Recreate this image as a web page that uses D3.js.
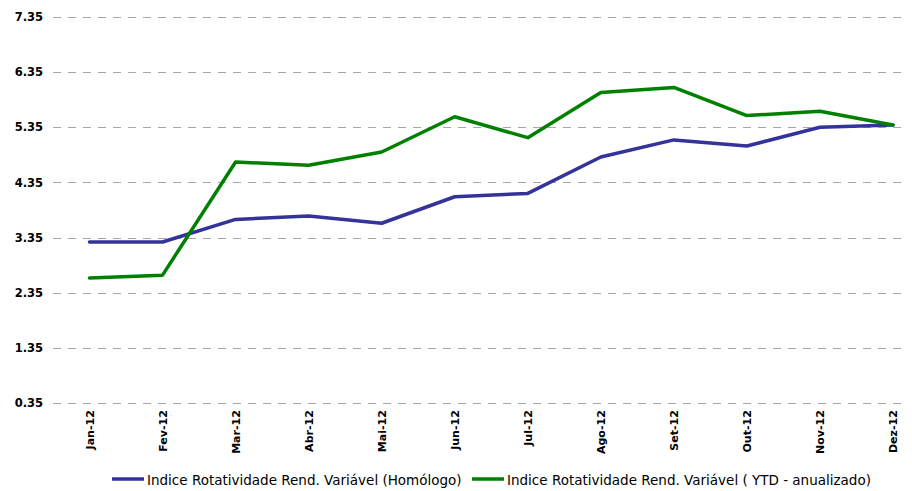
<!DOCTYPE html>
<html>
<head>
<meta charset="utf-8">
<script src="https://cdn.jsdelivr.net/npm/d3@7"></script>
<style>
  html, body { margin: 0; padding: 0; background: #fff; }
  svg { display: block; }
</style>
</head>
<body>
<svg id="chart" width="912" height="491"></svg>
<script>
const categories = ["Jan-12","Fev-12","Mar-12","Abr-12","Mai-12","Jun-12","Jul-12","Ago-12","Set-12","Out-12","Nov-12","Dez-12"];
const homologo = [3.27, 3.27, 3.68, 3.74, 3.61, 4.09, 4.15, 4.81, 5.12, 5.01, 5.35, 5.39];
const ytd = [2.62, 2.67, 4.72, 4.66, 4.90, 5.54, 5.16, 5.98, 6.07, 5.56, 5.64, 5.39];
const yTicks = [0.35, 1.35, 2.35, 3.35, 4.35, 5.35, 6.35, 7.35];
const seriesNames = ["Indice Rotatividade Rend. Variável (Homólogo)", "Indice Rotatividade Rend. Variável ( YTD - anualizado)"];
const seriesColors = ["#333399", "#008000"];

const svg = d3.select("#chart");
const gridLeft = 53, gridRight = 907;

const x = d3.scalePoint().domain(categories).range([89.5, 893]);
const y = d3.scaleLinear().domain([0.35, 7.35]).range([403.2, 16.8]);

// y axis labels
const yAxis = d3.axisLeft(y).tickValues(yTicks).tickFormat(d3.format(".2f")).tickSize(0).tickPadding(10);
const gy = svg.append("g").attr("transform", `translate(${gridLeft},0)`).call(yAxis);
gy.select(".domain").remove();
gy.selectAll("text")
  .attr("font-family", "DejaVu Sans, Verdana, sans-serif")
  .attr("font-weight", "bold")
  .attr("font-size", 11.5)
  .attr("fill", "#000");

// gridlines
svg.append("g").selectAll("line").data(yTicks).join("line")
  .attr("x1", gridLeft).attr("x2", gridRight)
  .attr("y1", d => Math.round(y(d)) + 0.5).attr("y2", d => Math.round(y(d)) + 0.5)
  .attr("stroke", "#a6a6a6").attr("stroke-width", 1)
  .attr("stroke-dasharray", "8,7");

// x axis labels
const xAxis = d3.axisBottom(x).tickSize(0).tickPadding(0);
const gx = svg.append("g").attr("transform", `translate(0,${y(0.35)})`).call(xAxis);
gx.select(".domain").remove();
gx.selectAll("text")
  .attr("font-family", "DejaVu Sans, Verdana, sans-serif")
  .attr("font-weight", "bold")
  .attr("font-size", 11)
  .attr("fill", "#000")
  .attr("text-anchor", "end")
  .attr("dy", "0.35em")
  .attr("transform", "translate(0,7) rotate(-90)");

// lines
const line = d3.line().x((d, i) => x(categories[i])).y(d => y(d));
[homologo, ytd].forEach((s, i) => {
  svg.append("path").datum(s)
    .attr("d", line)
    .attr("fill", "none")
    .attr("stroke", seriesColors[i])
    .attr("stroke-width", 3.5)
    .attr("stroke-linejoin", "round")
    .attr("stroke-linecap", "round");
});

// legend
const legendItems = [{x: 112, name: seriesNames[0], color: seriesColors[0]}, {x: 472, name: seriesNames[1], color: seriesColors[1]}];
const lg = svg.append("g");
legendItems.forEach(d => {
  lg.append("line").attr("x1", d.x).attr("x2", d.x + 32).attr("y1", 479).attr("y2", 479)
    .attr("stroke", d.color).attr("stroke-width", 3.5);
  lg.append("text").attr("x", d.x + 35).attr("y", 480).attr("dy", "0.35em")
    .attr("font-family", "DejaVu Sans, Verdana, sans-serif")
    .attr("font-size", 13.5).attr("fill", "#000")
    .text(d.name);
});
</script>
</body>
</html>
